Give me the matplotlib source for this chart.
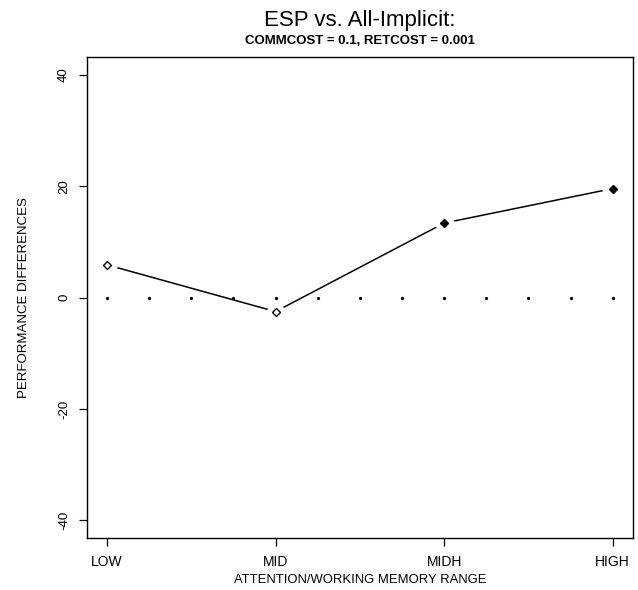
import numpy as np
import matplotlib.pyplot as plt

plt.rcParams['font.family'] = ['Liberation Sans', 'DejaVu Sans']

# data
categories = ['LOW', 'MID', 'MIDH', 'HIGH']
perf_diff = [5.9, -2.5, 13.4, 19.6]
filled = [False, False, True, True]
y_ticks = [-40, -20, 0, 20, 40]

x = np.arange(1, len(categories) + 1)
zero_x = np.arange(1, len(categories) + 0.01, 0.25)

fig = plt.figure(figsize=(6.38, 5.9), dpi=100)
ax = fig.add_axes([0.136, 0.088, 0.856, 0.815])

# zero reference line, drawn as dots
ax.plot(zero_x, np.zeros_like(zero_x), linestyle='none', marker='o',
        markersize=1.3, color='black')

# connecting line, with a small gap around each point (R type="b")
ax.plot(x, perf_diff, color='black', linewidth=1.1, zorder=2)
ax.plot(x, perf_diff, linestyle='none', marker='D', markersize=11,
        color='white', zorder=3)
for xi, yi, f in zip(x, perf_diff, filled):
    ax.plot(xi, yi, linestyle='none', marker='D', markersize=4.5,
            markerfacecolor='black' if f else 'white',
            markeredgecolor='black', markeredgewidth=1.0, zorder=4)

ax.set_xlim(1 - 0.12, 4 + 0.12)
ax.set_ylim(-43.2, 43.2)
ax.set_xticks(x)
ax.set_xticklabels(categories, fontsize=10)
ax.set_yticks(y_ticks)
ax.set_yticklabels([str(v) for v in y_ticks], fontsize=9.5, rotation=90,
                   va='center')
ax.tick_params(direction='out', length=6, width=0.9, pad=6)
for s in ax.spines.values():
    s.set_linewidth(1.0)

ax.set_xlabel('ATTENTION/WORKING MEMORY RANGE', fontsize=9.4, labelpad=4)
ax.set_ylabel('PERFORMANCE DIFFERENCES', fontsize=9.5, labelpad=20)

fig.text(0.564, 0.965, 'ESP vs. All-Implicit:', ha='center', va='center',
         fontsize=16)
fig.text(0.564, 0.930, 'COMMCOST = 0.1, RETCOST = 0.001', ha='center',
         va='center', fontsize=9.5, fontweight='bold')

fig.savefig('out.png', dpi=100)
